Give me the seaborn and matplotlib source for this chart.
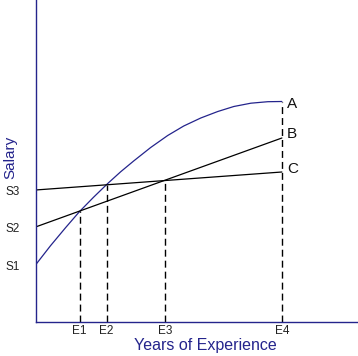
import matplotlib
matplotlib.use('Agg')
import matplotlib.pyplot as plt
import seaborn as sns

# данные (единицы условные)
exp_ticks = [44, 71, 129, 246]
exp_labels = ['E1', 'E2', 'E3', 'E4']
drop_tops = [111, 137, 141, 220]

sal_ticks = [57, 95, 132]
sal_labels = ['S1', 'S2', 'S3']

curve_a_x = [0, 15, 30, 44, 58, 72, 85, 98, 115, 132, 148, 165, 182, 198, 215, 232, 246]
curve_a_y = [57, 76.3, 94.3, 110.5, 124.8, 138.4, 150.2, 161, 174.5, 186.5, 196, 204,
             210.5, 215.5, 218.8, 220.3, 220.5]
line_b_x = [0, 246]
line_b_y = [95, 184]
line_c_x = [0, 246]
line_c_y = [132, 150]

end_labels = ['A', 'B', 'C']
end_y = [218, 188, 153]

navy = '#24248c'

sns.set_style('white')
plt.rcParams['font.family'] = ['Liberation Sans', 'DejaVu Sans']

fig = plt.figure(figsize=(3.58, 3.56), dpi=100)
ax = fig.add_axes([35.5 / 358, 34 / 356, 322.5 / 358, 322 / 356])

sns.lineplot(x=curve_a_x, y=curve_a_y, ax=ax, color=navy, lw=0.9, sort=False)
sns.lineplot(x=line_b_x, y=line_b_y, ax=ax, color='black', lw=0.9)
sns.lineplot(x=line_c_x, y=line_c_y, ax=ax, color='black', lw=0.9)

ax.vlines(exp_ticks, 0, drop_tops, colors='black', lw=1.0, linestyles=[(0, (5, 2.9))])

for lab, yy in zip(end_labels, end_y):
    ax.text(251, yy, lab, fontsize=11, va='center', ha='left', color='#111111')

ax.set_xlim(0, 322)
ax.set_ylim(0, 322)
ax.set_xticks(exp_ticks)
ax.set_xticklabels(exp_labels)
ax.set_yticks(sal_ticks)
ax.set_yticklabels(sal_labels)
ax.tick_params(axis='x', length=0, pad=2.5, labelsize=8.5, colors='#222222')
ax.tick_params(axis='y', length=0, pad=11, labelsize=8.5, colors='#222222')

for side in ['top', 'right']:
    ax.spines[side].set_visible(False)
for side in ['left', 'bottom']:
    ax.spines[side].set_color(navy)
    ax.spines[side].set_linewidth(1.0)

ax.set_xlabel('Years of Experience', fontsize=11.5, color=navy, va='center')
ax.set_ylabel('Salary', fontsize=11, color=navy, va='center')
ax.xaxis.set_label_coords(0.526, -0.073)
ax.yaxis.set_label_coords(-0.078, 0.512)

fig.savefig('out.png', dpi=100)
